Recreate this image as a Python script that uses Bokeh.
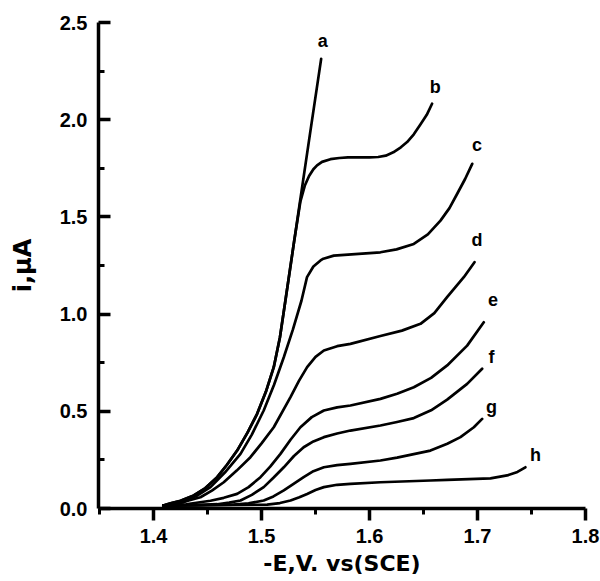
from bokeh.plotting import figure
from bokeh.models import Range1d, FixedTicker, PrintfTickFormatter, ColumnDataSource
from bokeh.core.properties import value
from bokeh.embed import file_html
from bokeh.resources import INLINE

# ---- data ----
a_x = [1.409, 1.4157, 1.425, 1.4372, 1.448, 1.4589, 1.468, 1.4774, 1.487, 1.4959, 1.504,
       1.5113, 1.517, 1.5221, 1.5453, 1.5552]
a_y = [0.015, 0.027, 0.040, 0.067, 0.105, 0.161, 0.225, 0.298, 0.390, 0.487, 0.600,
       0.727, 0.880, 1.070, 1.944, 2.313]

b_x = [1.409, 1.4157, 1.425, 1.4372, 1.448, 1.4589, 1.468, 1.4774, 1.487, 1.4959, 1.504,
       1.5113, 1.517, 1.5221, 1.530, 1.536, 1.540, 1.544, 1.548, 1.5514, 1.556, 1.5638,
       1.572, 1.580, 1.600, 1.608, 1.6150, 1.6220, 1.6290, 1.6348, 1.641, 1.6471, 1.653,
       1.6579]
b_y = [0.015, 0.027, 0.040, 0.067, 0.105, 0.161, 0.225, 0.298, 0.390, 0.487, 0.600,
       0.727, 0.880, 1.070, 1.368, 1.580, 1.660, 1.710, 1.745, 1.765, 1.783, 1.797,
       1.803, 1.806, 1.806, 1.808, 1.815, 1.832, 1.858, 1.885, 1.925, 1.975, 2.025,
       2.082]

c_x = [1.409, 1.418, 1.428, 1.440, 1.4527, 1.466, 1.4805, 1.491, 1.502, 1.5115, 1.5206,
       1.529, 1.537, 1.5421, 1.548, 1.5546, 1.5573, 1.5669, 1.590, 1.6101, 1.625, 1.641,
       1.654, 1.6657, 1.674, 1.6812, 1.6885, 1.6951]
c_y = [0.015, 0.022, 0.033, 0.065, 0.110, 0.185, 0.281, 0.380, 0.504, 0.635, 0.778,
       0.920, 1.070, 1.190, 1.245, 1.276, 1.285, 1.301, 1.310, 1.318, 1.333, 1.361,
       1.410, 1.481, 1.545, 1.619, 1.695, 1.773]

d_x = [1.409, 1.425, 1.4434, 1.454, 1.465, 1.477, 1.4897, 1.500, 1.5113, 1.5268, 1.5345,
       1.5422, 1.550, 1.5577, 1.570, 1.5823, 1.6101, 1.630, 1.6472, 1.660, 1.6718, 1.6873,
       1.6972]
d_y = [0.015, 0.030, 0.058, 0.092, 0.135, 0.195, 0.264, 0.335, 0.418, 0.573, 0.655,
       0.727, 0.780, 0.813, 0.835, 0.847, 0.887, 0.915, 0.950, 1.005, 1.087, 1.190,
       1.267]

e_x = [1.409, 1.430, 1.4527, 1.465, 1.4774, 1.488, 1.499, 1.508, 1.5175, 1.527, 1.536,
       1.5465, 1.5577, 1.570, 1.5823, 1.6101, 1.6255, 1.641, 1.657, 1.6719, 1.6904, 1.7058]
e_y = [0.015, 0.022, 0.040, 0.055, 0.075, 0.110, 0.161, 0.215, 0.281, 0.355, 0.418,
       0.470, 0.504, 0.520, 0.530, 0.564, 0.590, 0.624, 0.672, 0.736, 0.838, 0.958]

f_x = [1.409, 1.440, 1.459, 1.470, 1.4805, 1.491, 1.502, 1.511, 1.5206, 1.530, 1.539,
       1.548, 1.5577, 1.570, 1.5823, 1.6101, 1.6255, 1.641, 1.657, 1.6719, 1.6904, 1.7043]
f_y = [0.015, 0.017, 0.022, 0.030, 0.041, 0.070, 0.110, 0.158, 0.212, 0.270, 0.315,
       0.345, 0.367, 0.386, 0.401, 0.427, 0.445, 0.465, 0.505, 0.560, 0.641, 0.719]

g_x = [1.409, 1.4743, 1.488, 1.502, 1.511, 1.5206, 1.530, 1.539, 1.548, 1.5577, 1.570,
       1.5823, 1.6101, 1.6255, 1.6564, 1.672, 1.6842, 1.6966, 1.7043]
g_y = [0.015, 0.020, 0.027, 0.041, 0.062, 0.093, 0.128, 0.161, 0.192, 0.212, 0.223,
       0.230, 0.247, 0.262, 0.298, 0.333, 0.367, 0.418, 0.461]

h_x = [1.409, 1.5052, 1.517, 1.5268, 1.535, 1.5422, 1.550, 1.5577, 1.570, 1.5823, 1.6101,
       1.6564, 1.6719, 1.712, 1.7274, 1.737, 1.7443]
h_y = [0.015, 0.020, 0.028, 0.041, 0.058, 0.075, 0.095, 0.110, 0.122, 0.127, 0.135,
       0.144, 0.147, 0.155, 0.170, 0.188, 0.212]

curve_labels = ["a", "b", "c", "d", "e", "f", "g", "h"]
label_x = [1.5567, 1.6608, 1.6996, 1.6996, 1.7144, 1.7129, 1.7129, 1.7536]
label_y = [2.407, 2.167, 1.872, 1.382, 1.073, 0.778, 0.520, 0.273]

x_major = [1.4, 1.5, 1.6, 1.7, 1.8]
x_minor = [1.35, 1.45, 1.55, 1.65, 1.75]
y_major = [0.0, 0.5, 1.0, 1.5, 2.0, 2.5]
y_minor = [0.25, 0.75, 1.25, 1.75, 2.25]
x_start, x_end = 1.349, 1.8
y_start, y_end = 0.0, 2.5

x_title = "-E,V. vs(SCE)"
y_title = "i,\u03bcA"

# ---- figure ----
FONT = "Liberation Sans"
TITLE_FONT = "DejaVu Sans"
p = figure(width=600, height=581, output_backend="svg", toolbar_location=None,
           x_range=Range1d(x_start, x_end), y_range=Range1d(y_start, y_end),
           min_border_left=98, min_border_top=22, min_border_right=15, min_border_bottom=73)
p.background_fill_color = "white"
p.border_fill_color = "white"
p.outline_line_color = None
p.xgrid.visible = False
p.ygrid.visible = False

curves = [(a_x, a_y), (b_x, b_y), (c_x, c_y), (d_x, d_y),
          (e_x, e_y), (f_x, f_y), (g_x, g_y), (h_x, h_y)]
for xs, ys in curves:
    p.line(xs, ys, line_color="black", line_width=2.7, line_join="round", line_cap="round")

src = ColumnDataSource(dict(x=label_x, y=label_y, t=curve_labels))
p.text(x="x", y="y", text="t", source=src, text_font=value(FONT),
       text_font_size="18px", text_font_style="bold", text_align="center",
       text_baseline="middle", text_color="black")

# x axis
xa = p.xaxis[0]
xa.ticker = FixedTicker(ticks=x_major, minor_ticks=x_minor)
xa.formatter = PrintfTickFormatter(format="%.1f")
xa.axis_label = x_title
xa.major_tick_in = 0
xa.major_tick_out = 12
xa.minor_tick_in = 0
xa.minor_tick_out = 6
xa.major_label_standoff = 8
xa.axis_label_standoff = 5
xa.axis_label_text_font_size = "22px"

# y axis
ya = p.yaxis[0]
ya.ticker = FixedTicker(ticks=y_major, minor_ticks=y_minor)
ya.formatter = PrintfTickFormatter(format="%.1f")
ya.axis_label = y_title
ya.major_tick_in = 12
ya.major_tick_out = 0
ya.minor_tick_in = 6
ya.minor_tick_out = 0
ya.major_label_standoff = 11
ya.axis_label_standoff = 20
ya.axis_label_text_font_size = "24px"

for ax in (xa, ya):
    ax.axis_line_width = 3.5
    ax.axis_line_color = "black"
    ax.major_tick_line_width = 3.5
    ax.major_tick_line_color = "black"
    ax.minor_tick_line_width = 3
    ax.minor_tick_line_color = "black"
    ax.major_label_text_font = FONT
    ax.major_label_text_font_style = "bold"
    ax.major_label_text_font_size = "20px"
    ax.major_label_text_color = "black"
    ax.axis_label_text_font = TITLE_FONT
    ax.axis_label_text_font_style = "bold"
    ax.axis_label_text_color = "black"

open("out.html", "w").write(file_html(p, INLINE))
